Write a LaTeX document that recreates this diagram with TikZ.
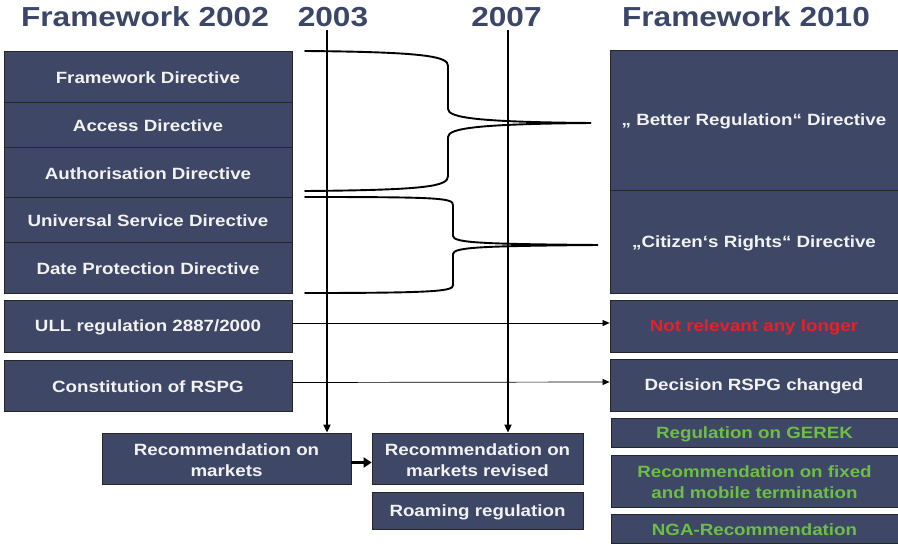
\documentclass[tikz,border=0pt]{standalone}
\usepackage{fontspec}
\setmainfont{Liberation Sans}[FakeStretch=1.15]
\usetikzlibrary{fit,arrows.meta}
\definecolor{boxfill}{HTML}{3F4766}
\definecolor{titleblue}{HTML}{3B4668}
\definecolor{txtwhite}{HTML}{F2F2F2}
\definecolor{txtred}{HTML}{E8202A}
\definecolor{txtgreen}{HTML}{6DBE45}
\begin{document}
\begin{tikzpicture}[x=1pt,y=-1pt,
  bx/.style={draw=black!85,line width=0.8pt,fill=boxfill,inner sep=0pt},
  lbl/.style={inner sep=0pt,anchor=center,yshift=-1.5pt,text=txtwhite,align=center,
    font=\fontsize{16.3}{21}\selectfont\bfseries},
  ttl/.style={anchor=base,text=titleblue,font=\fontsize{27.5}{30}\selectfont\bfseries},
  brace/.style={line width=1.9pt,line cap=round},
  vline/.style={line width=1.8pt,-{Triangle[length=8pt,width=7pt]}},
  hline/.style={line width=0.7pt,-{Triangle[length=7pt,width=6pt]}},
  fat/.style={line width=3pt,-{Triangle[length=8pt,width=10pt]}}]
\useasboundingbox (0,0) rectangle (898,546);
% titles
\node[ttl] (t02) at (145,27) {Framework 2002};
\node[ttl] (t03) at (333,27) {2003};
\node[ttl] (t07) at (506.5,27) {2007};
\node[ttl] (t10) at (746,27) {Framework 2010};
% left column
\node[bx,fit={(4,51) (292,102)}] (fd) {};
\node[lbl] (fdt) at (fd) {Framework Directive};
\node[bx,fit={(4,102) (292,147)}] (ad) {};
\node[lbl] (adt) at (ad) {Access Directive};
\node[bx,fit={(4,147) (292,197)}] (aud) {};
\node[lbl] (audt) at (aud) {Authorisation Directive};
\node[bx,fit={(4,197) (292,242)}] (usd) {};
\node[lbl] (usdt) at (usd) {Universal Service Directive};
\node[bx,fit={(4,242) (292,293)}] (dpd) {};
\node[lbl] (dpdt) at (dpd) {Date Protection Directive};
\node[bx,fit={(4,300) (292,352)}] (ull) {};
\node[lbl] (ullt) at (ull) {ULL regulation 2887/2000};
\node[bx,fit={(4,360) (292,411)}] (rspg) {};
\node[lbl] (rspgt) at (rspg) {Constitution of RSPG};
% right column
\node[bx,fit={(610,50) (898,190)}] (better) {};
\node[lbl] (bettert) at (better) {„ Better Regulation“ Directive};
\node[bx,fit={(610,190) (898,293)}] (citizen) {};
\node[lbl] (citizent) at (citizen) {„Citizen‘s Rights“ Directive};
\node[bx,fit={(610,300) (898,352)}] (notrel) {};
\node[lbl,text=txtred] (notrelt) at (notrel) {Not relevant any longer};
\node[bx,fit={(610,359) (898,411)}] (dec) {};
\node[lbl] (dect) at (dec) {Decision RSPG changed};
\node[bx,fit={(611,418) (898,447)}] (gerek) {};
\node[lbl,text=txtgreen] (gerekt) at (gerek) {Regulation on GEREK};
\node[bx,fit={(611,455) (898,507)}] (term) {};
\node[lbl,text=txtgreen] (termt) at (term) {Recommendation on fixed\\and mobile termination};
\node[bx,fit={(611,514) (898,543)}] (nga) {};
\node[lbl,text=txtgreen] (ngat) at (nga) {NGA-Recommendation};
% bottom boxes
\node[bx,fit={(102,433) (351,484)}] (rm) {};
\node[lbl] (rmt) at (rm) {Recommendation on\\markets};
\node[bx,fit={(372,433) (583,484)}] (rev) {};
\node[lbl] (revt) at (rev) {Recommendation on\\markets revised};
\node[bx,fit={(372,492) (583,529)}] (roam) {};
\node[lbl] (roamt) at (roam) {Roaming regulation};
% braces
\coordinate (b1a) at (305,51);
\coordinate (b1tip) at (591,123);
\coordinate (b1b) at (305,191);
\coordinate (b2a) at (305,197);
\coordinate (b2tip) at (598,245);
\coordinate (b2b) at (305,293);
\draw[brace] (b1a) .. controls (430,52) and (448,57) .. (448,66) -- (448,109)
  .. controls (448,118) and (480,122) .. (b1tip)
  .. controls (480,124) and (448,128) .. (448,137) -- (448,176)
  .. controls (448,186) and (430,190) .. (b1b);
\draw[brace] (b2a) .. controls (440,197) and (453,198) .. (453,205) -- (453,236)
  .. controls (453,243) and (485,244) .. (b2tip)
  .. controls (485,246) and (453,247) .. (453,254) -- (453,285)
  .. controls (453,291) and (440,293) .. (b2b);
% timeline arrows
\coordinate (top3) at (327,30);
\coordinate (top7) at (508,30);
\draw[vline] (top3) -- (top3 |- rm.north);
\draw[vline] (top7) -- (top7 |- rev.north);
\draw[hline] ([yshift=3pt]ull.east) -- ([yshift=3pt]notrel.west);
\draw[hline] ([yshift=3pt]rspg.east) -- ([yshift=3pt]dec.west);
\draw[fat] ([yshift=-4pt]rm.east) -- ([yshift=-4pt]rev.west);
\end{tikzpicture}
\end{document}
